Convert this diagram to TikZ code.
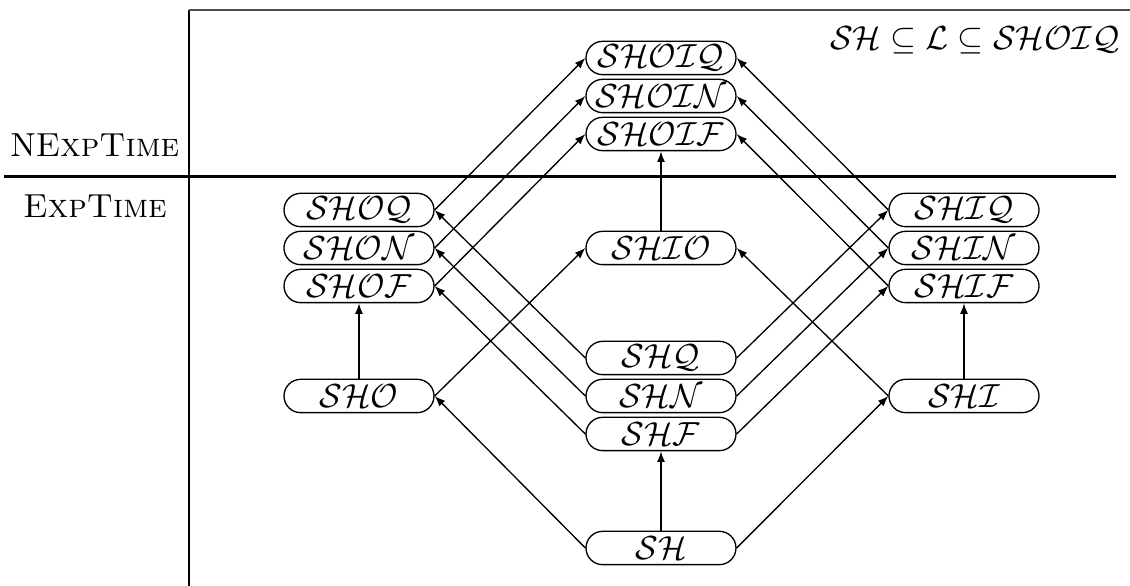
\documentclass[tikz,border=0pt]{standalone}
\usetikzlibrary{shapes.misc,arrows.meta}
\begin{document}
\begin{tikzpicture}[x=0.3pt,y=-0.3pt,
  dl/.style={rounded rectangle,draw,line width=0.4pt,minimum width=45pt,minimum height=10pt,inner sep=0pt},
  arr/.style={-{Latex[length=3.2pt,width=2.4pt]},line width=0.4pt},
  cls/.style={font=\normalsize}]
\useasboundingbox (0,0) rectangle (1130,586);
% frame
\coordinate (vt) at (189,10);
\coordinate (vb) at (189,586);
\coordinate (tr) at (1130,10);
\coordinate (hl) at (4,176.5);
\coordinate (hr) at (1116,176.5);
\draw[line width=0.45pt] (vt) -- (vb);
\draw[line width=0.4pt,black!70] (vt) -- (tr);
\draw[line width=0.65pt] (hl) -- (hr);
\node[cls] (nexp) at (95,145) {N\textsc{ExpTime}};
\node[cls] (exp) at (95,206) {\textsc{ExpTime}};
\node (rng) at (975,40) {$\mathcal{SH}\subseteq\mathcal{L}\subseteq\mathcal{SHOIQ}$};
% nodes
\node[dl] (shoiq) at (661,58) {$\mathcal{SHOIQ}$};
\node[dl] (shoin) at (661,96) {$\mathcal{SHOIN}$};
\node[dl] (shoif) at (661,134) {$\mathcal{SHOIF}$};
\node[dl] (shio) at (661,248) {$\mathcal{SHIO}$};
\node[dl] (shq) at (661,358) {$\mathcal{SHQ}$};
\node[dl] (shn) at (661,396) {$\mathcal{SHN}$};
\node[dl] (shf) at (661,434) {$\mathcal{SHF}$};
\node[dl] (sh) at (661,548) {$\mathcal{SH}$};
\node[dl] (shoq) at (359,210) {$\mathcal{SHOQ}$};
\node[dl] (shon) at (359,248) {$\mathcal{SHON}$};
\node[dl] (shof) at (359,286) {$\mathcal{SHOF}$};
\node[dl] (sho) at (359,396) {$\mathcal{SHO}$};
\node[dl] (shiq) at (964,210) {$\mathcal{SHIQ}$};
\node[dl] (shin) at (964,248) {$\mathcal{SHIN}$};
\node[dl] (shif) at (964,286) {$\mathcal{SHIF}$};
\node[dl] (shi) at (964,396) {$\mathcal{SHI}$};
% edges
\draw[arr] (sh.west) -- (sho.east);
\draw[arr] (sh.east) -- (shi.west);
\draw[arr] (sh.north) -- (shf.south);
\draw[arr] (sho.north) -- (shof.south);
\draw[arr] (shi.north) -- (shif.south);
\draw[arr] (sho.east) -- (shio.west);
\draw[arr] (shi.west) -- (shio.east);
\draw[arr] (shio.north) -- (shoif.south);
\draw[arr] (shq.west) -- (shoq.east);
\draw[arr] (shn.west) -- (shon.east);
\draw[arr] (shf.west) -- (shof.east);
\draw[arr] (shq.east) -- (shiq.west);
\draw[arr] (shn.east) -- (shin.west);
\draw[arr] (shf.east) -- (shif.west);
\draw[arr] (shoq.east) -- (shoiq.west);
\draw[arr] (shon.east) -- (shoin.west);
\draw[arr] (shof.east) -- (shoif.west);
\draw[arr] (shiq.west) -- (shoiq.east);
\draw[arr] (shin.west) -- (shoin.east);
\draw[arr] (shif.west) -- (shoif.east);
\end{tikzpicture}
\end{document}
